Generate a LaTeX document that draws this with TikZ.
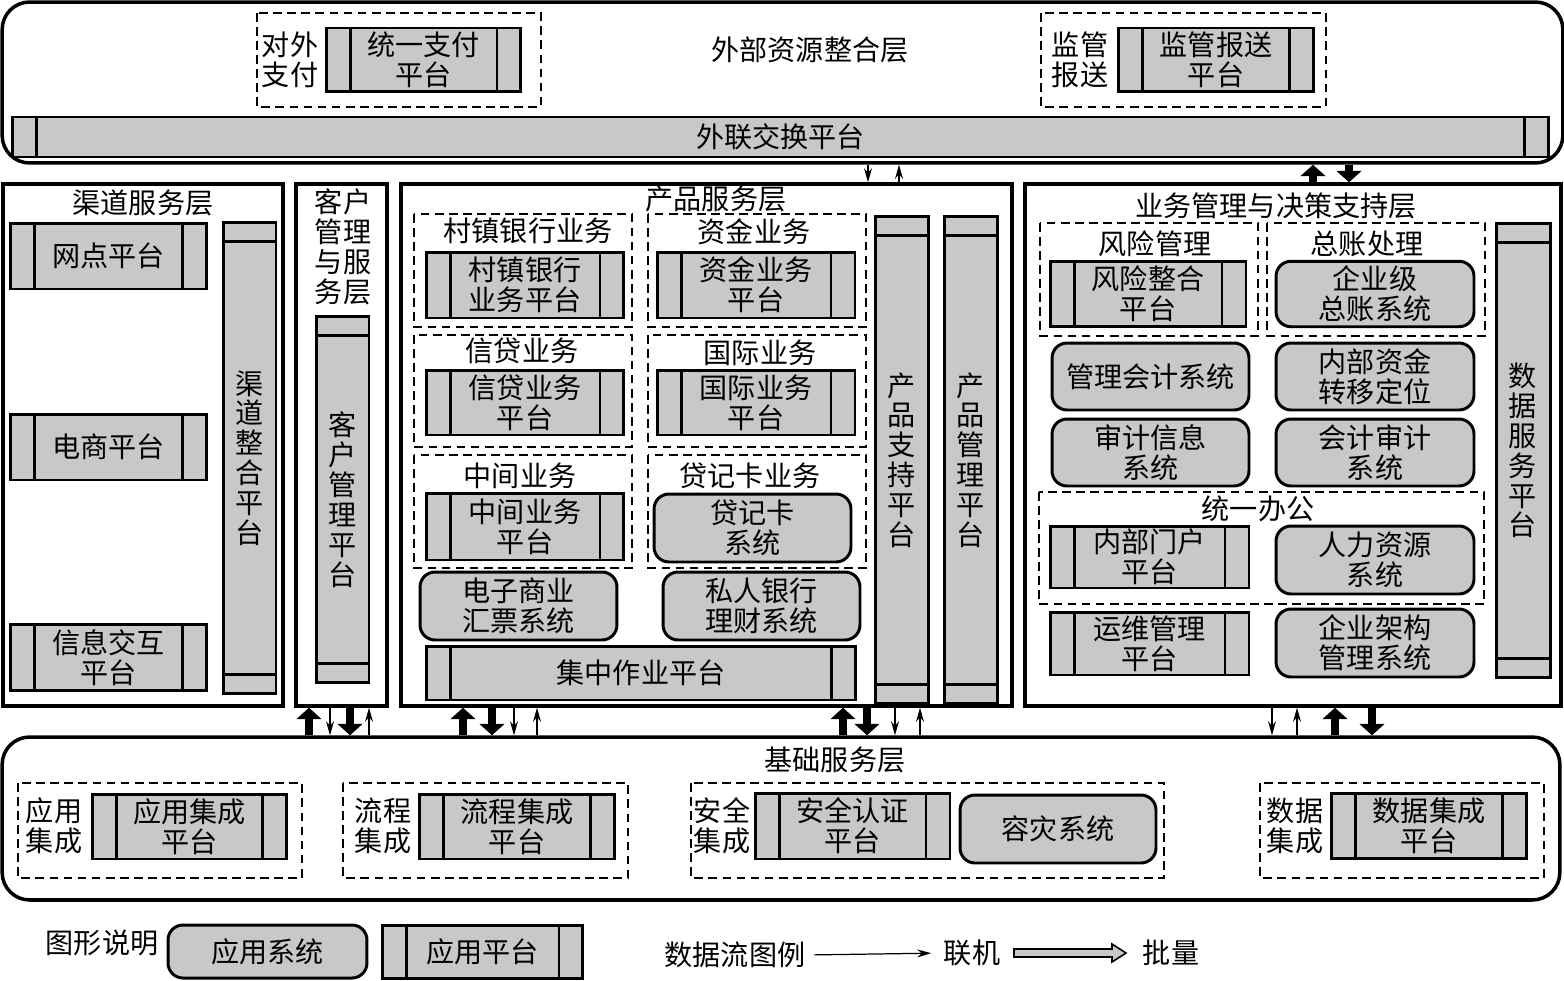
\documentclass[tikz,border=0pt]{standalone}
\usepackage{fontspec}
\setmainfont{Noto Sans CJK SC}
\usetikzlibrary{arrows.meta}
\definecolor{boxgray}{RGB}{200,200,200}

\begin{document}
\begin{tikzpicture}[
    x=0.02cm, y=-0.02cm,
    font=\fontsize{16}{17}\selectfont,
    % Styles
    layer/.style={
      rectangle,
      draw=black,
      line width=2pt,
      inner sep=0pt,
    },
    group/.style={draw=black, dash pattern=on 5pt off 3pt, line width=0.8pt},
    plat/.style={
      rectangle,
      draw=black,
      fill=boxgray,
      line width=1.7pt,
      align=center,
      inner sep=0pt,
      minimum width=3.9cm,
      minimum height=1.3cm,
      path picture={
        \draw[line width=1.7pt]
          ([xshift=0.48cm]path picture bounding box.north west) -- ([xshift=0.48cm]path picture bounding box.south west)
          ([xshift=-0.48cm]path picture bounding box.north east) -- ([xshift=-0.48cm]path picture bounding box.south east);
      },
    },
    vplat/.style={
      rectangle,
      draw=black,
      fill=boxgray,
      line width=1.7pt,
      align=center,
      inner sep=0pt,
      minimum width=1.06cm,
      path picture={
        \draw[line width=1.7pt]
          ([yshift=-0.38cm]path picture bounding box.north west) -- ([yshift=-0.38cm]path picture bounding box.north east)
          ([yshift=0.38cm]path picture bounding box.south west) -- ([yshift=0.38cm]path picture bounding box.south east);
      },
    },
    sys/.style={
      rectangle,
      rounded corners=0.3cm,
      draw=black,
      fill=boxgray,
      line width=1.7pt,
      align=center,
      inner sep=0pt,
      minimum width=3.94cm,
      minimum height=1.34cm,
    },
    title/.style={inner sep=0pt, align=center},
    online/.style={line width=0.7pt, -{Stealth[length=8pt, width=4.5pt]}},
    batch/.style={line width=4.5pt, -{Triangle[length=6.5pt, width=14pt]}},
  ]
  \useasboundingbox (0,0) rectangle (1564,980);

  % external resources layer
  \node[layer, rounded corners=0.55cm, minimum width=31.22cm, minimum height=3.22cm] (ext) at (782.5,82.5) {};
  \node[title] (extlab) at (810,50) {外部资源整合层};
  \draw[group] (257,13) rectangle (541,107);
  \node[title] (paylab) at (290,60) {对外\\支付};
  \node[plat, minimum height=1.28cm] (pay) at (423.5,60) {统一支付\\平台};
  \draw[group] (1041,13) rectangle (1326,107);
  \node[title] (reglab) at (1080,60) {监管\\报送};
  \node[plat, minimum height=1.28cm] (reg) at (1216,60) {监管报送\\平台};
  \node[plat, minimum width=30.74cm, minimum height=0.8cm] (xchg) at (780.5,137) {外联交换平台};

  % channel layer
  \node[layer, minimum width=5.6cm, minimum height=10.44cm] (chan) at (143,445) {};
  \node[title] (chanlab) at (143,203) {渠道服务层};
  \node[plat, minimum width=3.94cm, minimum height=1.32cm] (dot) at (108.5,256) {网点平台};
  \node[plat, minimum width=3.94cm, minimum height=1.32cm] (ecom) at (108.5,447) {电商平台};
  \node[plat, minimum width=3.94cm, minimum height=1.32cm] (info) at (108.5,657.5) {信息交互\\平台};
  \node[vplat, minimum height=9.44cm] (chint) at (249.5,458) {渠\\道\\整\\合\\平\\台};

  % customer layer
  \node[layer, minimum width=1.82cm, minimum height=10.44cm] (cust) at (341.5,445) {};
  \node[title] (custlab) at (343,247) {客户\\管理\\与服\\务层};
  \node[vplat, minimum height=7.34cm] (crm) at (342.5,499.5) {客\\户\\管\\理\\平\\台};

  % product layer
  \node[layer, minimum width=12.22cm, minimum height=10.44cm] (prod) at (706.5,445) {};
  \node[title] (prodlab) at (716,199) {产品服务层};
  \draw[group] (414,214) rectangle (632,327);
  \node[title] (townlab) at (528,231) {村镇银行业务};
  \node[plat, minimum width=3.96cm, minimum height=1.32cm] (town) at (525,285) {村镇银行\\业务平台};
  \draw[group] (648,214) rectangle (866,327);
  \node[title] (fundlab) at (754,232) {资金业务};
  \node[plat, minimum width=3.96cm, minimum height=1.32cm] (fund) at (756,285) {资金业务\\平台};
  \draw[group] (414,335) rectangle (632,447);
  \node[title] (loanlab) at (522,351) {信贷业务};
  \node[plat, minimum width=3.96cm, minimum height=1.3cm] (loan) at (525,402.5) {信贷业务\\平台};
  \draw[group] (648,335) rectangle (866,447);
  \node[title] (intllab) at (760,353) {国际业务};
  \node[plat, minimum width=3.96cm, minimum height=1.3cm] (intl) at (756,402.5) {国际业务\\平台};
  \draw[group] (414,455) rectangle (632,568);
  \node[title] (midlab) at (520,476) {中间业务};
  \node[plat, minimum width=3.96cm, minimum height=1.34cm] (mid) at (525,526.5) {中间业务\\平台};
  \draw[group] (648,455) rectangle (866,568);
  \node[title] (cardlab) at (750,476) {贷记卡业务};
  \node[sys, minimum width=3.94cm, minimum height=1.36cm] (card) at (752.5,528) {贷记卡\\系统};
  \node[sys, minimum height=1.36cm] (bill) at (518.5,606) {电子商业\\汇票系统};
  \node[sys, minimum height=1.36cm] (priv) at (761.5,606) {私人银行\\理财系统};
  \node[plat, minimum width=8.6cm, minimum height=1.08cm] (ops) at (641,673) {集中作业平台};
  \node[vplat, minimum height=9.76cm] (psup) at (901.5,460) {产\\品\\支\\持\\平\\台};
  \node[vplat, minimum height=9.76cm] (pman) at (971,460) {产\\品\\管\\理\\平\\台};

  % management layer
  \node[layer, minimum width=10.72cm, minimum height=10.44cm] (mgmt) at (1293,445) {};
  \node[title] (mgmtlab) at (1276,206) {业务管理与决策支持层};
  \draw[group] (1040,223) rectangle (1258,336);
  \node[title] (risklab) at (1155,244) {风险管理};
  \node[plat, minimum width=3.92cm, minimum height=1.31cm] (risk) at (1148,294) {风险整合\\平台};
  \draw[group] (1267,223) rectangle (1485,336);
  \node[title] (ledglab) at (1367,244) {总账处理};
  \node[sys, minimum width=3.96cm, minimum height=1.31cm] (ledg) at (1375,294) {企业级\\总账系统};
  \node[sys, minimum width=3.94cm] (macc) at (1150.5,376.5) {管理会计系统};
  \node[sys, minimum width=3.96cm] (ftp) at (1375,376.5) {内部资金\\转移定位};
  \node[sys, minimum width=3.94cm] (audit) at (1150.5,452.5) {审计信息\\系统};
  \node[sys, minimum width=3.96cm] (accaud) at (1375,452.5) {会计审计\\系统};
  \draw[group] (1039,492) rectangle (1484,604);
  \node[title] (offlab) at (1258,509) {统一办公};
  \node[plat, minimum width=3.98cm, minimum height=1.24cm] (portal) at (1149.5,557) {内部门户\\平台};
  \node[sys, minimum width=3.96cm, minimum height=1.36cm] (hr) at (1375,560) {人力资源\\系统};
  \node[plat, minimum width=3.98cm, minimum height=1.26cm] (itops) at (1149.5,643.5) {运维管理\\平台};
  \node[sys, minimum width=3.96cm, minimum height=1.36cm] (ea) at (1375,643) {企业架构\\管理系统};
  \node[vplat, minimum width=1.08cm, minimum height=9.1cm] (data) at (1523,450.5) {数\\据\\服\\务\\平\\台};

  % base layer
  \node[layer, rounded corners=0.55cm, minimum width=31.16cm, minimum height=3.26cm] (base) at (781,818.5) {};
  \node[title] (baselab) at (835,760) {基础服务层};
  \draw[group] (18,783) rectangle (302,878);
  \node[title] (applab) at (54,826) {应用\\集成};
  \node[plat] (app) at (189.5,826.5) {应用集成\\平台};
  \draw[group] (343,783) rectangle (628,878);
  \node[title] (proclab) at (383,826) {流程\\集成};
  \node[plat] (proc) at (517,826.5) {流程集成\\平台};
  \draw[group] (691,783) rectangle (1164,878);
  \node[title] (seclab) at (722,826) {安全\\集成};
  \node[plat, minimum height=1.32cm] (sec) at (852.5,826) {安全认证\\平台};
  \node[sys, minimum width=3.92cm, minimum height=1.36cm] (dr) at (1058,829) {容灾系统};
  \draw[group] (1260,783) rectangle (1544,878);
  \node[title] (datalab) at (1295,826) {数据\\集成};
  \node[plat] (dint) at (1429,826) {数据集成\\平台};

  % flows
  \draw[online] (868,0 |- ext.south) -- (868,0 |- prod.north);
  \draw[online] (899,0 |- prod.north) -- (899,0 |- ext.south);
  \draw[batch] (1313,0 |- mgmt.north) -- (1313,0 |- ext.south);
  \draw[batch] (1349,0 |- ext.south) -- (1349,0 |- mgmt.north);
  \draw[batch] (309,0 |- base.north) -- (309,0 |- cust.south);
  \draw[online] (330,0 |- cust.south) -- (330,0 |- base.north);
  \draw[batch] (350,0 |- cust.south) -- (350,0 |- base.north);
  \draw[online] (369,0 |- base.north) -- (369,0 |- cust.south);
  \draw[batch] (463,0 |- base.north) -- (463,0 |- prod.south);
  \draw[batch] (492,0 |- prod.south) -- (492,0 |- base.north);
  \draw[online] (514,0 |- prod.south) -- (514,0 |- base.north);
  \draw[online] (537,0 |- base.north) -- (537,0 |- prod.south);
  \draw[batch] (843,0 |- base.north) -- (843,0 |- prod.south);
  \draw[batch] (867,0 |- prod.south) -- (867,0 |- base.north);
  \draw[online] (895,0 |- prod.south) -- (895,0 |- base.north);
  \draw[online] (920,0 |- base.north) -- (920,0 |- prod.south);
  \draw[online] (1272,0 |- mgmt.south) -- (1272,0 |- base.north);
  \draw[online] (1297,0 |- base.north) -- (1297,0 |- mgmt.south);
  \draw[batch] (1335,0 |- base.north) -- (1335,0 |- mgmt.south);
  \draw[batch] (1372,0 |- mgmt.south) -- (1372,0 |- base.north);

  % legend
  \node[title] (figlab) at (102,943) {图形说明};
  \node[sys, minimum width=3.98cm, minimum height=1.06cm] (lsys) at (267.5,951.5) {应用系统};
  \node[plat, minimum width=4.02cm, minimum height=1.06cm] (lplat) at (482.5,951.5) {应用平台};
  \node[title] (flowlab) at (735,955) {数据流图例};
  \node[title] (onlab) at (972,953) {联机};
  \draw[online, shorten <=5pt, shorten >=7pt] (flowlab.east) -- (onlab.west);
  \draw[fill=boxgray, line width=0.9pt] (1014,949) -- (1112,949) -- (1112,944) -- (1126,953)
    -- (1112,962) -- (1112,957) -- (1014,957) -- cycle;
  \node[title] (batchlab) at (1171,953) {批量};
\end{tikzpicture}
\end{document}
